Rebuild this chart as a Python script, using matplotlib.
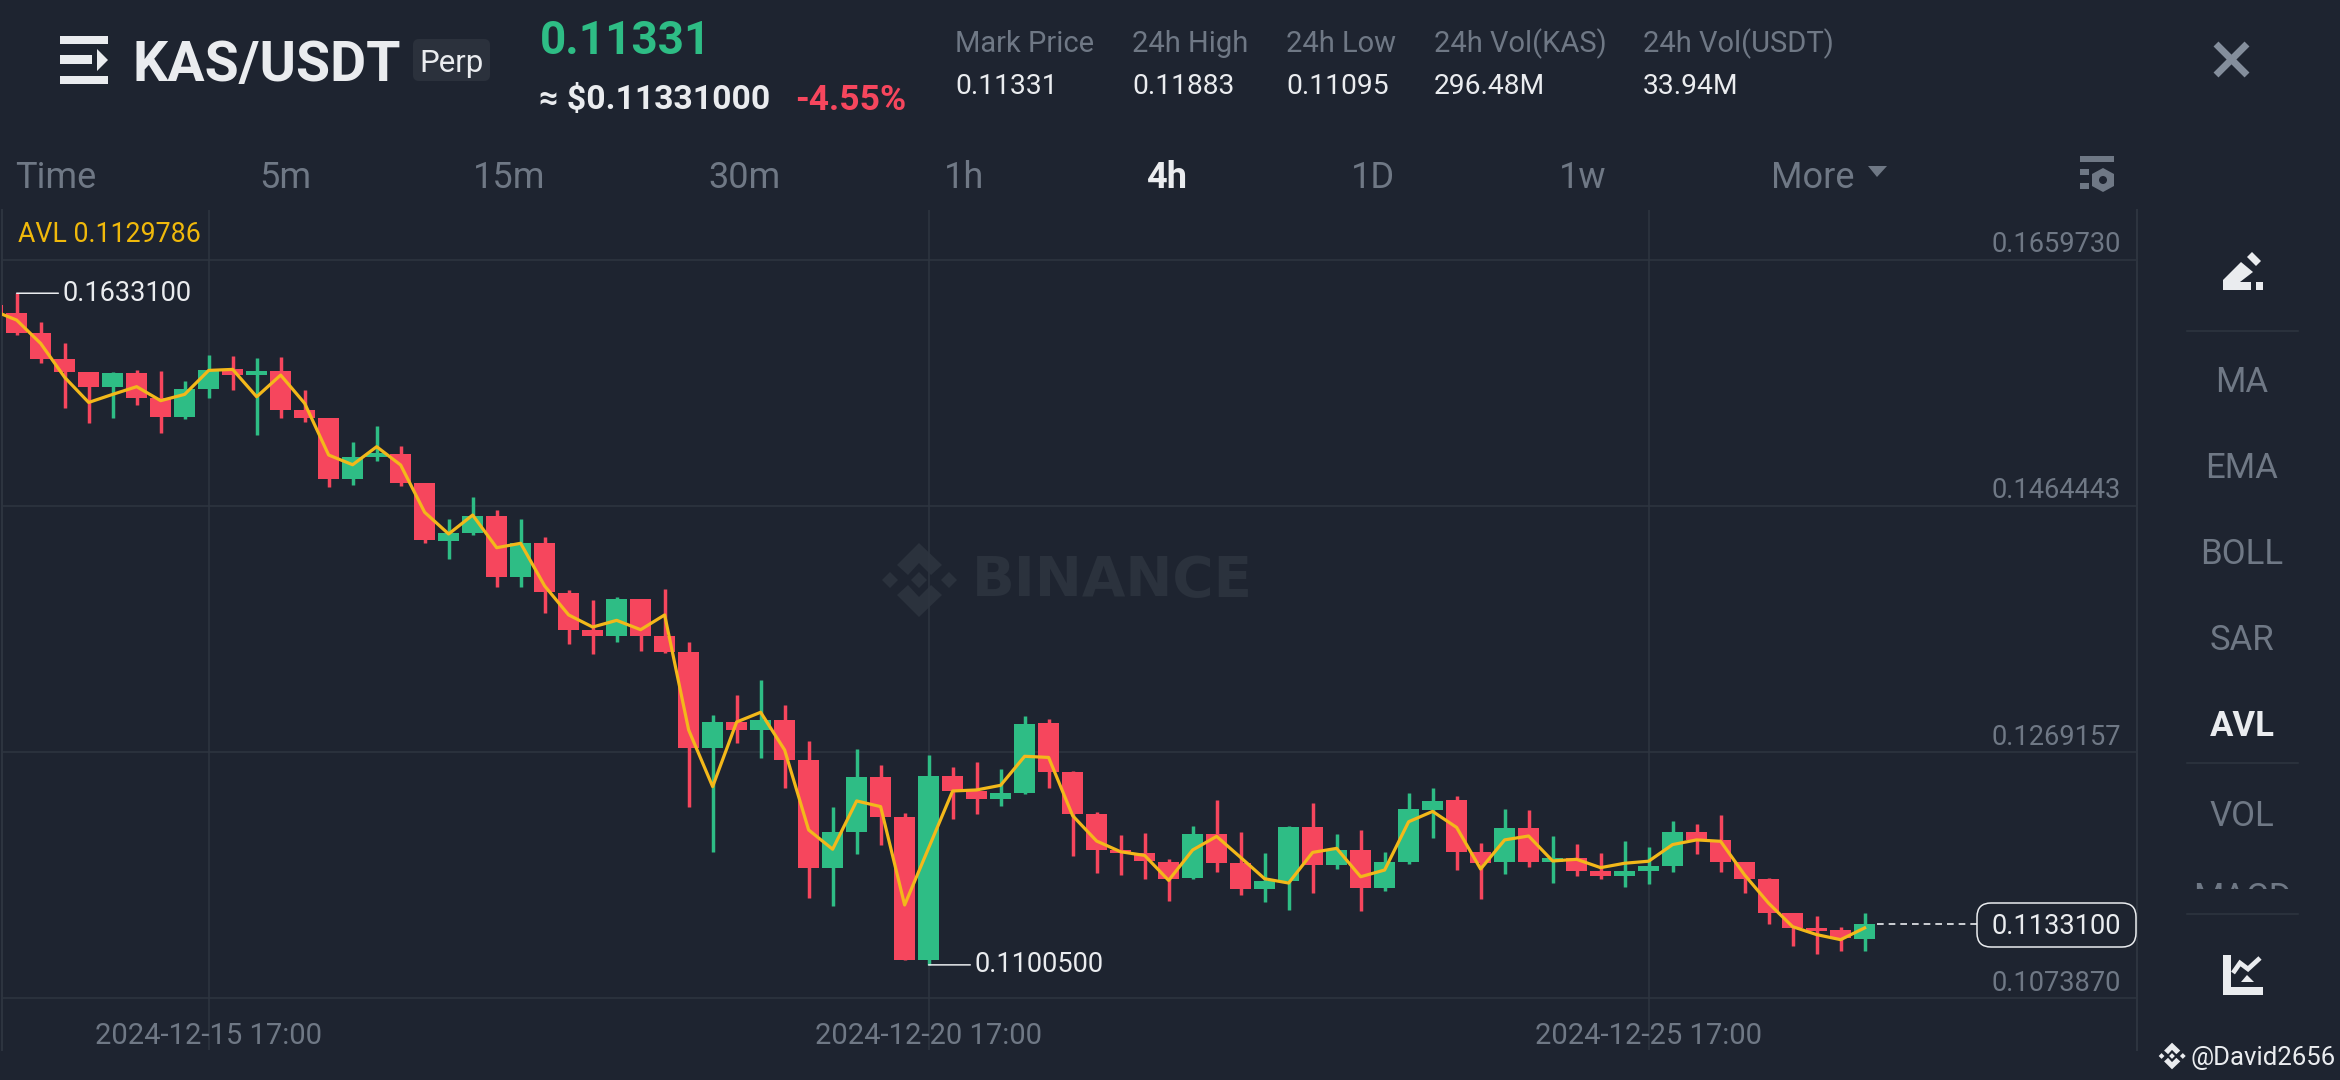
import numpy as np
import matplotlib
matplotlib.use("Agg")
import matplotlib.pyplot as plt
from matplotlib.patches import Polygon, Rectangle, FancyBboxPatch
from matplotlib.transforms import ScaledTranslation

plt.rcParams['font.family'] = ['Roboto', 'DejaVu Sans']

opens = [0.16237,0.16171,0.16013,0.15809,0.15706,0.15587,0.15698,0.15497,0.15347,0.15574,
         0.15727,0.15680,0.15717,0.15402,0.15341,0.14860,0.15035,0.15056,0.14824,0.14369,
         0.14432,0.14565,0.14081,0.14350,0.13957,0.13661,0.13616,0.13904,0.13616,0.13486,
         0.12728,0.12931,0.12871,0.12945,0.12630,0.11774,0.12059,0.12493,0.12178,0.11044,
         0.12503,0.12382,0.12324,0.12368,0.12920,0.12534,0.12201,0.11916,0.11895,0.11821,
         0.11691,0.12040,0.11815,0.11604,0.11667,0.12095,0.11794,0.11918,0.11617,0.11821,
         0.12235,0.12309,0.11900,0.11819,0.12088,0.11821,0.11853,0.11750,0.11710,0.11750,
         0.11787,0.12059,0.11996,0.11821,0.11686,0.11417,0.11301,0.11279,0.11213]
closes = [0.16158,0.16018,0.15812,0.15709,0.15587,0.15701,0.15497,0.15347,0.15569,0.15724,
          0.15680,0.15714,0.15405,0.15344,0.14860,0.15032,0.15066,0.14823,0.14372,0.14432,
          0.14567,0.14081,0.14350,0.13959,0.13663,0.13613,0.13904,0.13616,0.13489,0.12728,
          0.12934,0.12868,0.12945,0.12633,0.11774,0.12059,0.12493,0.12178,0.11042,0.12503,
          0.12382,0.12324,0.12366,0.12918,0.12534,0.12201,0.11916,0.11892,0.11826,0.11686,
          0.12040,0.11815,0.11606,0.11667,0.12095,0.11797,0.11916,0.11617,0.11821,0.12238,
          0.12307,0.11900,0.11815,0.12091,0.11821,0.11853,0.11750,0.11710,0.11750,0.11790,
          0.12059,0.11996,0.11821,0.11686,0.11420,0.11301,0.11277,0.11219,0.11331]
highs = [0.16237,0.16331,0.16105,0.15939,0.15706,0.15706,0.15722,0.15717,0.15637,0.15838,
         0.15833,0.15820,0.15828,0.15563,0.15341,0.15148,0.15280,0.15119,0.14829,0.14541,
         0.14713,0.14612,0.14543,0.14395,0.13975,0.13896,0.13920,0.13909,0.13986,0.13568,
         0.12984,0.13143,0.13264,0.13064,0.12778,0.12260,0.12720,0.12588,0.12213,0.12670,
         0.12577,0.12617,0.12559,0.12982,0.12954,0.12545,0.12220,0.12032,0.12048,0.11847,
         0.12109,0.12312,0.12056,0.11895,0.12103,0.12288,0.12040,0.12077,0.11897,0.12365,
         0.12407,0.12344,0.11969,0.12239,0.12231,0.12025,0.11967,0.11890,0.11988,0.11938,
         0.12146,0.12123,0.12191,0.11821,0.11692,0.11417,0.11393,0.11303,0.11420]
lows = [0.16158,0.15997,0.15780,0.15423,0.15299,0.15344,0.15442,0.15225,0.15336,0.15500,
        0.15563,0.15206,0.15339,0.15310,0.14797,0.14810,0.15003,0.14802,0.14350,0.14221,
        0.14414,0.13999,0.13999,0.13798,0.13550,0.13473,0.13566,0.13497,0.13481,0.12260,
        0.11901,0.12768,0.12646,0.12405,0.11533,0.11472,0.11885,0.11956,0.11042,0.11005,
        0.12165,0.12202,0.12268,0.12363,0.12410,0.11871,0.11736,0.11715,0.11688,0.11509,
        0.11688,0.11741,0.11559,0.11501,0.11440,0.11575,0.11762,0.11435,0.11591,0.11807,
        0.12013,0.11757,0.11530,0.11726,0.11779,0.11652,0.11710,0.11689,0.11620,0.11649,
        0.11739,0.11887,0.11742,0.11578,0.11327,0.11155,0.11092,0.11116,0.11118]
avl = [0.16195,0.16118,0.15933,0.15664,0.15465,0.15529,0.15590,0.15479,0.15529,0.15719,
       0.15727,0.15510,0.15682,0.15458,0.15048,0.14971,0.15114,0.14969,0.14594,0.14422,
       0.14572,0.14313,0.14348,0.14010,0.13780,0.13684,0.13737,0.13663,0.13780,0.12868,
       0.12419,0.12931,0.13008,0.12709,0.12075,0.11922,0.12305,0.12260,0.11480,0.11932,
       0.12384,0.12392,0.12429,0.12659,0.12650,0.12188,0.11987,0.11902,0.11873,0.11675,
       0.11916,0.12024,0.11857,0.11688,0.11654,0.11897,0.11929,0.11704,0.11757,0.12140,
       0.12222,0.12095,0.11765,0.11996,0.12027,0.11829,0.11842,0.11776,0.11811,0.11827,
       0.11959,0.11996,0.11985,0.11718,0.11494,0.11308,0.11245,0.11205,0.11298]

price_ticks = [0.1659730, 0.1464443, 0.1269157, 0.1073870]
date_ticks = [9, 39, 69]
date_labels = ['2024-12-15 17:00', '2024-12-20 17:00', '2024-12-25 17:00']
high_label = '0.1633100'
low_label = '0.1100500'
last_label = '0.1133100'
high_index, low_index = 1, 39
timeframes = ['5m', '15m', '30m', '1h', '4h', '1D', '1w']
indicators = ['MA', 'EMA', 'BOLL', 'SAR', 'AVL', 'VOL']
stat_names = ['Mark Price', '24h High', '24h Low', '24h Vol(KAS)', '24h Vol(USDT)']
stat_values = ['0.11331', '0.11883', '0.11095', '296.48M', '33.94M']

BG = '#1E2430'; GRID = '#2E3540'; RED = '#F6465D'; GREEN = '#2EBD85'
GOLD = '#F0B90B'; DIM = '#6F7885'; WHITE = '#EAECEF'; WM = '#2B323D'

W, H = 2340, 1080
fig = plt.figure(figsize=(W/100, H/100), dpi=100, facecolor=BG)

def overlay(z):
    a = fig.add_axes([0, 0, 1, 1], zorder=z)
    a.set_xlim(0, W); a.set_ylim(H, 0); a.axis('off'); a.patch.set_alpha(0)
    return a
under = overlay(1)
ui = overlay(3)

ax = fig.add_axes([2/W, (H-1050)/H, 2135/W, 840/H], zorder=2)
ax.patch.set_alpha(0)
n = len(opens)
xs = np.arange(n)
ax.set_xlim(0.389, 89.35)
ax.set_ylim(0.10330, 0.16991)
for s in ('top', 'bottom'):
    ax.spines[s].set_visible(False)
for s in ('left', 'right'):
    ax.spines[s].set_color(GRID); ax.spines[s].set_linewidth(1.4)
ax.set_axisbelow(True)
ax.grid(True, color=GRID, lw=1.1)

o, c, h, l = map(np.array, (opens, closes, highs, lows))
cols = [GREEN if cc >= oo else RED for oo, cc in zip(o, c)]
ax.vlines(xs, l, h, colors=cols, lw=2.5, zorder=3)
ax.bar(xs, np.abs(c-o), bottom=np.minimum(o, c), width=0.89, color=cols, zorder=3, linewidth=0)
ax.plot(xs, avl, color='#F3B81A', lw=2.3, zorder=4, solid_joinstyle='round')

ax.set_xticks(date_ticks, date_labels)
ax.tick_params(axis='x', length=0, pad=-20, labelsize=21, labelcolor=DIM)
ax.yaxis.tick_right()
ax.set_yticks(price_ticks, [f'{p:.7f}' for p in price_ticks])
ax.tick_params(axis='y', length=0, pad=-11.5, labelsize=19.6, labelcolor=DIM)
shift = ScaledTranslation(0, 18/100, fig.dpi_scale_trans)
for lab in ax.get_yticklabels():
    lab.set_ha('right')
    lab.set_transform(lab.get_transform() + shift)

# high / low callouts
ax.annotate(high_label, xy=(xs[high_index], highs[high_index]), xytext=(33, 0), textcoords='offset points',
            color=WHITE, fontsize=19.5, va='center', ha='left',
            arrowprops=dict(arrowstyle='-', color=WHITE, lw=1.1, shrinkA=1, shrinkB=0, relpos=(0, 0.5)))
ax.annotate(low_label, xy=(xs[low_index], lows[low_index]), xytext=(33, 0), textcoords='offset points',
            color=WHITE, fontsize=19.5, va='center', ha='left',
            arrowprops=dict(arrowstyle='-', color=WHITE, lw=1.1, shrinkA=1, shrinkB=0, relpos=(0, 0.5)))
# last price dashed line
ax.plot([xs[-1]+0.5, 82.7], [closes[-1]]*2, color=WHITE, lw=1.2, dashes=(4, 3), zorder=4)

def T(a, x, y, s, **k):
    k.setdefault('va', 'center'); k.setdefault('color', WHITE)
    return a.text(x, y, s, **k)

# price box
ui.add_patch(FancyBboxPatch((1983, 909), 147, 32, boxstyle='round,pad=6,rounding_size=14',
                            fc=BG, ec=WHITE, lw=1.1))
T(ui, 2121, 926, last_label, ha='right', fontsize=19.6)

def binance_logo(a, cx, cy, k, color):
    for dx, r in [(0, 8), (-29, 8), (30, 8)]:
        a.add_patch(Polygon([(cx+(dx-r)*k, cy), (cx+dx*k, cy-r*k), (cx+(dx+r)*k, cy), (cx+dx*k, cy+r*k)],
                            fc=color, ec='none'))
    for sgn in (-1, 1):
        pts = [(0, 37), (23, 15), (12, 5), (0, 17), (-11, 5), (-22, 15)]
        a.add_patch(Polygon([(cx+px*k, cy+sgn*py*k) for px, py in pts], fc=color, ec='none'))

# watermark
binance_logo(under, 919, 580, 1.0, WM)
T(under, 972, 581, 'BINANCE', fontsize=40.5, fontweight='bold', color=WM, ha='left', family='DejaVu Sans')

# header
for y0, y1, x1 in [(36, 44, 108), (76, 84, 108), (55, 64, 92)]:
    ui.add_patch(Rectangle((60, y0), x1-60, y1-y0, fc=WHITE, ec='none'))
ui.add_patch(Polygon([(97, 49), (108, 60), (97, 71)], fc=WHITE, ec='none'))
T(ui, 133, 66, 'KAS/USDT', fontsize=40, fontweight='bold', ha='left')
ui.add_patch(FancyBboxPatch((419, 45), 65, 30, boxstyle='round,pad=6,rounding_size=6', fc='#2B313C', ec='none'))
T(ui, 451, 64, 'Perp', fontsize=22.5, ha='center')
T(ui, 540, 41, '0.11331', fontsize=33, fontweight='bold', color=GREEN, ha='left')
T(ui, 539, 100, '≈ $0.11331000', fontsize=24.3, fontweight='bold', ha='left')
T(ui, 795, 100, '-4.55%', fontsize=25.5, fontweight='bold', color=RED, ha='left')
for x, a, b in zip([955, 1132, 1286, 1434, 1643], stat_names, stat_values):
    T(ui, x, 44, a, fontsize=21, color=DIM, ha='left')
    T(ui, x, 86, b, fontsize=20.3, ha='left')

# timeframe row
T(ui, 15, 178, 'Time', fontsize=26, color=DIM, ha='left')
for x, s in zip([285, 509, 745, 964, 1167, 1373, 1583], timeframes):
    on = s == '4h'
    T(ui, x, 178, s, fontsize=26, color=WHITE if on else DIM, fontweight='bold' if on else 'normal', ha='center')
T(ui, 1771, 178, 'More', fontsize=26, color=DIM, ha='left')
ui.add_patch(Polygon([(1868, 166), (1887, 166), (1877, 177)], fc=DIM, ec='none'))
# settings icon
for y0, y1, x0, x1 in [(156, 162, 2080, 2114), (169, 175, 2080, 2089), (183, 189, 2080, 2089)]:
    ui.add_patch(Rectangle((x0, y0), x1-x0, y1-y0, fc=DIM, ec='none'))
ui.add_patch(Polygon([(2103, 168), (2114, 174), (2114, 186), (2103, 192), (2092, 186), (2092, 174)], fc=DIM, ec='none'))
ui.add_patch(plt.Circle((2103, 180), 4, fc=BG, ec='none'))
T(ui, 18, 234, 'AVL 0.1129786', fontsize=19.3, color=GOLD, ha='left')

# close icon
ui.plot([2216, 2247], [44, 75], color='#848E9C', lw=5, solid_capstyle='butt')
ui.plot([2216, 2247], [75, 44], color='#848E9C', lw=5, solid_capstyle='butt')

# sidebar
for y, s in zip([382, 468, 555, 641, 726, 816], indicators):
    on = s == 'AVL'
    T(ui, 2242, y, s, fontsize=25, color=WHITE if on else DIM, fontweight='bold' if on else 'normal', ha='center')
# MACD scrolled almost out of view: only the top of its letters shows above a covering strip
T(ui, 2242, 898, 'MACD', fontsize=25, color=DIM, ha='center', zorder=3)
ui.add_patch(Rectangle((2180, 889), 125, 24, fc=BG, ec='none', zorder=4))
for y in [330.5, 763, 914]:
    ui.plot([2187, 2298], [y, y], color=GRID, lw=1.1, zorder=5)
ui.add_patch(Polygon([(2223, 290), (2223, 280), (2241, 262), (2253, 272), (2240, 282), (2251, 282), (2251, 290)], fc=WHITE, ec='none'))
ui.add_patch(Polygon([(2247, 257), (2252, 252), (2261, 261), (2256, 266)], fc=WHITE, ec='none'))
ui.add_patch(Rectangle((2256, 282), 7, 8, fc=WHITE, ec='none'))
# chart-style icon
ui.add_patch(Polygon([(2223, 955), (2231, 955), (2231, 987), (2263, 987), (2263, 995), (2223, 995)], fc=WHITE, ec='none'))
ui.plot([2233, 2240, 2248, 2260], [973, 963, 969, 958], color=WHITE, lw=3.4, solid_joinstyle='miter', solid_capstyle='butt')
ui.add_patch(Polygon([(2241, 982), (2254, 982), (2247, 975)], fc=WHITE, ec='none'))

# credit
T(ui, 2190, 1058, '@David2656', fontsize=18.5, ha='left')
binance_logo(ui, 2172, 1056, 0.36, WHITE)

fig.savefig('out.png', dpi=100, facecolor=BG)
